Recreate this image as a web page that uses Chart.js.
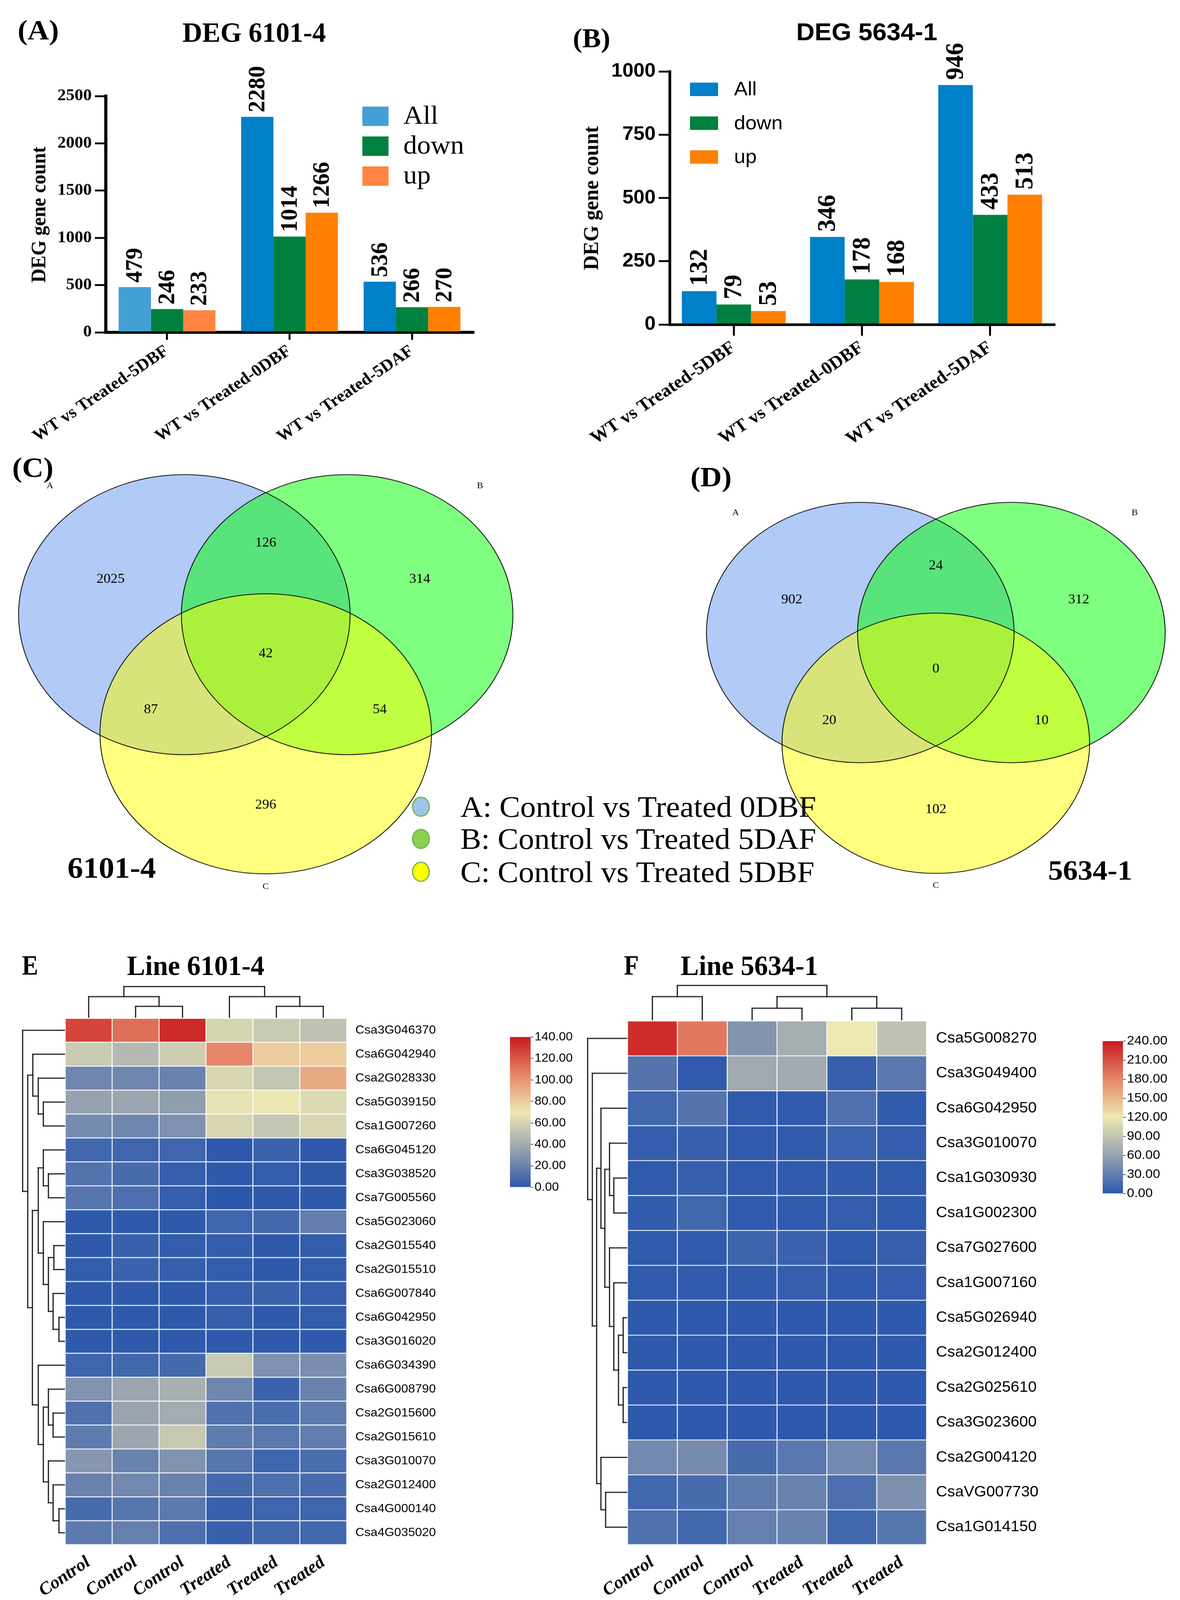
<!DOCTYPE html>
<html><head><meta charset="utf-8"><title>DEG figure</title>
<script src="https://cdn.jsdelivr.net/npm/chart.js@4.4.1/dist/chart.umd.min.js"></script>
<style>
html,body{margin:0;padding:0;background:#fff;}
body{width:3022px;position:relative;overflow:hidden;}
#fig{position:absolute;left:0;top:0;width:3022px;height:4280px;transform-origin:0 0;background:#fff;}
canvas{position:absolute;}
.t{position:absolute;white-space:nowrap;transform-origin:center center;color:#000;line-height:1;z-index:10;}
.dot{position:absolute;border-radius:50%;box-sizing:border-box;z-index:10;}
</style></head>
<body>
<div id="fig"></div>
<script>
// ================= DATA =================
const barCategories = ['WT vs Treated-5DBF', 'WT vs Treated-0DBF', 'WT vs Treated-5DAF'];
const seriesNames = ['All', 'down', 'up'];
const deg6101All  = [479, 2280, 536];
const deg6101Down = [246, 1014, 266];
const deg6101Up   = [233, 1266, 270];
const deg5634All  = [132, 346, 946];
const deg5634Down = [79, 178, 433];
const deg5634Up   = [53, 168, 513];
const deg6101Ticks = [0, 500, 1000, 1500, 2000, 2500];
const deg5634Ticks = [0, 250, 500, 750, 1000];

const vennRegions = ['A', 'AB', 'B', 'ABC', 'AC', 'BC', 'C'];
const venn6101Counts = [2025, 126, 314, 42, 87, 54, 296];
const venn5634Counts = [902, 24, 312, 0, 20, 10, 102];
const vennSetLetters = ['A', 'B', 'C'];
const vennSetNames = ['A: Control vs Treated 0DBF', 'B: Control vs Treated 5DAF', 'C: Control vs Treated 5DBF'];

const heatColumns = ['Control', 'Control', 'Control', 'Treated', 'Treated', 'Treated'];
const heat6101Genes = ['Csa3G046370','Csa6G042940','Csa2G028330','Csa5G039150','Csa1G007260','Csa6G045120',
  'Csa3G038520','Csa7G005560','Csa5G023060','Csa2G015540','Csa2G015510','Csa6G007840','Csa6G042950',
  'Csa3G016020','Csa6G034390','Csa6G008790','Csa2G015600','Csa2G015610','Csa3G010070','Csa2G012400',
  'Csa4G000140','Csa4G035020'];
const heat6101Values = [
  [126,113,135,60,55,51],[55,47,57,105,80,80],[22,22,20,61,53,92],[35,37,33,67,69,63],
  [24,22,27,61,53,61],[7,6,6,1,5,1],[13,9,3,1,2,1],[14,11,3,0,1,1],[1,1,1,6,8,18],
  [1,4,2,2,1,2],[2,5,3,2,1,2],[1,1,1,3,5,3],[1,1,1,3,1,2],[1,1,1,1,1,1],
  [6,7,8,55,27,25],[28,37,42,22,5,20],[12,36,40,12,10,17],[17,37,54,17,15,18],
  [30,20,28,14,6,10],[20,23,20,8,11,9],[9,14,16,4,6,6],[16,19,11,4,7,7]];
const heat6101Ticks = [0, 20, 40, 60, 80, 100, 120, 140];
const heat5634Genes = ['Csa5G008270','Csa3G049400','Csa6G042950','Csa3G010070','Csa1G030930','Csa1G002300',
  'Csa7G027600','Csa1G007160','Csa5G026940','Csa2G012400','Csa2G025610','Csa3G023600','Csa2G004120',
  'CsaVG007730','Csa1G014150'];
const heat5634Values = [
  [229,188,49,70,120,87],[23,2,67,68,6,26],[12,23,2,2,20,3],[4,6,2,3,9,4],[2,5,2,2,3,2],
  [3,12,2,2,4,2],[2,2,10,8,2,5],[2,2,3,5,2,4],[1,1,1,1,1,1],[1,1,1,1,1,1],[1,1,1,1,1,1],
  [1,1,1,1,1,1],[40,42,15,25,40,26],[12,15,29,34,18,46],[20,12,32,35,12,24]];
const heat5634Ticks = [0, 30, 60, 90, 120, 150, 180, 210, 240];
// cluster trees: [left, right, merge distance]; leaves are row / column indices
const heat6101RowTree = [0, [[1, [2, [3, 4, 54], 67], 81],
  [[[5, [6, 7, 41], 54], [8, [[9, 10, 27], [11, [12, 13, 14], 29], 41], 54], 67],
   [14, [[15, [16, 17, 29], 41], [18, [19, [20, 21, 14], 29], 41], 54], 67], 82], 94], 107];
const heat6101ColTree = [[0, [1, 2, 29], 55], [3, [4, 5, 29], 55], 82];
const heat5634RowTree = [0, [1, [[2, [[3, [4, 5, 33], 44], [6, [7, [[8, 9, 9], [10, 11, 9], 21], 33], 44], 56], 66],
  [12, [13, 14, 54], 66], 77], 88], 100];
const heat5634ColTree = [[0, 1, 62], [[2, 3, 31], [4, 5, 31], 62], 92];

// ================= STYLE / LAYOUT =================
const FIG_W = 3022, FIG_H = 4280;
const fig = document.getElementById('fig');
// the browser viewport may be shorter than the figure: fit the whole figure into it
const fitY = Math.min(1, (window.innerHeight || FIG_H) / FIG_H);
fig.style.transform = `scale(1, ${fitY})`;
document.body.style.height = Math.round(FIG_H * fitY) + 'px';

const SERIF = '"Liberation Serif","Times New Roman",serif';
const SANS = '"Liberation Sans",Arial,sans-serif';
Chart.defaults.color = '#000';
Chart.defaults.font.family = SANS;

const heatStops = [[0,[44,88,172]],[0.25,[150,162,176]],[0.5,[238,232,178]],[0.75,[230,135,105]],[1,[200,25,30]]];
function heatColor(f) {
  f = Math.max(0, Math.min(1, f));
  for (let i = 1; i < heatStops.length; i++) {
    if (f <= heatStops[i][0]) {
      const [f0, c0] = heatStops[i-1], [f1, c1] = heatStops[i];
      const t = (f - f0) / (f1 - f0);
      return 'rgb(' + c0.map((c, k) => Math.round(c + (c1[k] - c) * t)).join(',') + ')';
    }
  }
  return 'rgb(200,25,30)';
}

function mkCanvas(left, top, w, h) {
  const c = document.createElement('canvas');
  c.width = w; c.height = h;
  c.style.left = left + 'px'; c.style.top = top + 'px';
  c.style.width = w + 'px'; c.style.height = h + 'px';
  fig.appendChild(c);
  return c;
}
function addText(txt, x, y, size, o = {}) {
  const d = document.createElement('div');
  d.className = 't'; d.textContent = txt;
  d.style.left = x + 'px'; d.style.top = y + 'px';
  d.style.fontFamily = o.family || SERIF;
  d.style.fontSize = size + 'px';
  d.style.fontWeight = o.bold === false ? 'normal' : 'bold';
  const sy = o.sy || 1;
  d.style.transform = o.left ? `translate(0,-50%) scale(1,${sy})`
                             : `translate(-50%,-50%) rotate(${o.rot || 0}deg) scale(1,${sy})`;
  if (o.left) d.style.transformOrigin = 'left center';
  fig.appendChild(d);
}

// ---------- plugins ----------
function valueLabels(size, gap) {
  return { id: 'valueLabels', afterDatasetsDraw(chart) {
    const ctx = chart.ctx; ctx.save();
    ctx.fillStyle = '#000'; ctx.font = `bold ${size}px ${SERIF}`;
    ctx.textAlign = 'left'; ctx.textBaseline = 'middle';
    chart.data.datasets.forEach((ds, di) => {
      chart.getDatasetMeta(di).data.forEach((el, i) => {
        ctx.save(); ctx.translate(el.x + 2, el.y - gap); ctx.rotate(-Math.PI / 2);
        ctx.fillText(String(ds.data[i]), 0, 0); ctx.restore();
      });
    });
    ctx.restore();
  }};
}
function boxLegend(o) {
  return { id: 'boxLegend', afterDraw(chart) {
    const ctx = chart.ctx; ctx.save();
    chart.data.datasets.forEach((ds, i) => {
      const y = o.y + i * o.step;
      ctx.fillStyle = ds.legendColor; ctx.fillRect(o.x, y, o.w, o.h);
      ctx.fillStyle = '#000'; ctx.font = `${o.size}px ${o.family}`;
      ctx.textAlign = 'left'; ctx.textBaseline = 'middle';
      ctx.fillText(ds.label, o.textX, y + o.h / 2 + 2);
    });
    ctx.restore();
  }};
}

function barChart(canvas, all, down, up, ticks, st) {
  return new Chart(canvas, {
    type: 'bar',
    data: { labels: barCategories, datasets: [
      { label: seriesNames[0], data: all, backgroundColor: st.allColors, legendColor: st.legendColors[0] },
      { label: seriesNames[1], data: down, backgroundColor: st.downColors, legendColor: st.legendColors[1] },
      { label: seriesNames[2], data: up, backgroundColor: st.upColors, legendColor: st.legendColors[2] }]},
    options: {
      responsive: false, animation: false, devicePixelRatio: 1,
      layout: { padding: st.padding },
      plugins: { legend: { display: false }, tooltip: { enabled: false } },
      datasets: { bar: { categoryPercentage: st.catPct, barPercentage: 1, borderWidth: 0 } },
      scales: {
        x: { z: 1,
          grid: { offset: false, drawOnChartArea: false, tickLength: st.xTickLen, lineWidth: 5, color: '#000' },
          border: { color: '#000', width: st.axisW },
          ticks: { minRotation: 35, maxRotation: 35, autoSkip: false, padding: 4, color: '#000',
                   font: { family: SERIF, size: st.xFont, weight: 'bold' } },
          afterFit(s) { s.height = st.xH; } },
        y: { z: 1, min: 0, max: ticks[ticks.length - 1],
          afterBuildTicks(ax) { ax.ticks = ticks.map(v => ({ value: v })); },
          grid: { drawOnChartArea: false, tickLength: 28, lineWidth: 5, color: '#000' },
          border: { color: '#000', width: st.axisW },
          ticks: { padding: 8, color: '#000', font: { family: st.yFamily, size: st.yFont, weight: 'bold' },
                   callback: v => String(v) },
          afterFit(s) { s.width = st.yW; } }
      }
    },
    plugins: [valueLabels(st.valFont, st.valGap), boxLegend(st.legend)]
  });
}

// Venn geometry (data units: distance between set centres = 1)
const vennCentres = [[-0.5, 0.433], [0.5, 0.433], [0, -0.433]];
const vennRadius = 1.018;
const vennFills = ['rgba(100,149,237,0.5)', 'rgba(0,255,0,0.5)', 'rgba(255,255,0,0.5)'];
const vennRegionAnchors = [[-0.953,0.689],[0,0.955],[0.946,0.689],[0,0.148],[-0.705,-0.257],[0.70,-0.257],[0,-0.951]];
const vennLetterAnchors = [[-1.325,1.37],[1.316,1.37],[0,-1.545]];

function vennChart(canvas, counts, xr, yr) {
  const plugin = {
    id: 'venn',
    beforeDatasetsDraw(chart) {
      const { x, y } = chart.scales; const ctx = chart.ctx;
      const E = vennCentres.map(c => ({
        cx: x.getPixelForValue(c[0]), cy: y.getPixelForValue(c[1]),
        rx: Math.abs(x.getPixelForValue(c[0] + vennRadius) - x.getPixelForValue(c[0])),
        ry: Math.abs(y.getPixelForValue(c[1] + vennRadius) - y.getPixelForValue(c[1])) }));
      ctx.save();
      E.forEach((e, i) => { ctx.beginPath(); ctx.ellipse(e.cx, e.cy, e.rx, e.ry, 0, 0, 2 * Math.PI);
        ctx.fillStyle = vennFills[i]; ctx.fill(); });
      ctx.strokeStyle = '#000'; ctx.lineWidth = 2;
      E.forEach(e => { ctx.beginPath(); ctx.ellipse(e.cx, e.cy, e.rx, e.ry, 0, 0, 2 * Math.PI); ctx.stroke(); });
      ctx.restore();
    },
    afterDatasetsDraw(chart) {
      const ctx = chart.ctx; ctx.save(); ctx.fillStyle = '#000';
      ctx.textAlign = 'center'; ctx.textBaseline = 'middle';
      chart.data.datasets.forEach((ds, di) => {
        ctx.font = `${ds.textSize}px ${SERIF}`;
        chart.getDatasetMeta(di).data.forEach((p, i) => ctx.fillText(String(ds.texts[i]), p.x, p.y));
      });
      ctx.restore();
    }
  };
  return new Chart(canvas, {
    type: 'scatter',
    data: { datasets: [
      { data: vennRegionAnchors.map(p => ({ x: p[0], y: p[1] })), texts: counts, textSize: 36, pointRadius: 0 },
      { data: vennLetterAnchors.map(p => ({ x: p[0], y: p[1] })), texts: vennSetLetters, textSize: 24, pointRadius: 0 }]},
    options: { responsive: false, animation: false, devicePixelRatio: 1, layout: { padding: 0 },
      plugins: { legend: { display: false }, tooltip: { enabled: false } },
      scales: { x: { type: 'linear', display: false, min: xr[0], max: xr[1] },
                y: { type: 'linear', display: false, min: yr[0], max: yr[1] } } },
    plugins: [plugin]
  });
}

function dendro(rowTree, colTree) {
  return { id: 'dendro', afterDraw(chart) {
    const ctx = chart.ctx, area = chart.chartArea, xs = chart.scales.x, ys = chart.scales.y;
    ctx.save(); ctx.strokeStyle = '#1a1a1a'; ctx.lineWidth = 3; ctx.lineCap = 'square';
    const line = (a, b, c, d) => { ctx.beginPath(); ctx.moveTo(a, b); ctx.lineTo(c, d); ctx.stroke(); };
    const rowBase = area.left - 2, colBase = area.top - 3;
    function wr(n) {
      if (typeof n === 'number') return { p: ys.getPixelForValue(n + 0.5), d: rowBase };
      const a = wr(n[0]), b = wr(n[1]), d = rowBase - n[2];
      line(d, a.p, d, b.p); line(d, a.p, a.d, a.p); line(d, b.p, b.d, b.p);
      return { p: (a.p + b.p) / 2, d };
    }
    function wc(n) {
      if (typeof n === 'number') return { p: xs.getPixelForValue(n), d: colBase };
      const a = wc(n[0]), b = wc(n[1]), d = colBase - n[2];
      line(a.p, d, b.p, d); line(a.p, d, a.p, a.d); line(b.p, d, b.p, b.d);
      return { p: (a.p + b.p) / 2, d };
    }
    wr(rowTree); wc(colTree);
    ctx.restore();
  }};
}

function heatmap(canvas, genes, values, vmax, rowTree, colTree, st) {
  const datasets = genes.map((g, i) => ({
    label: g, data: heatColumns.map(() => [i, i + 1]),
    backgroundColor: values[i].map(v => heatColor(v / vmax)),
    borderColor: '#ffffff', borderWidth: 1.5, borderSkipped: false, grouped: false,
    categoryPercentage: 1, barPercentage: 1 }));
  return new Chart(canvas, {
    type: 'bar',
    data: { labels: heatColumns, datasets },
    options: { responsive: false, animation: false, devicePixelRatio: 1,
      layout: { padding: st.padding },
      plugins: { legend: { display: false }, tooltip: { enabled: false } },
      scales: {
        x: { type: 'category', grid: { display: false }, border: { display: false },
             ticks: { minRotation: 35, maxRotation: 35, autoSkip: false, padding: 12, color: '#000',
                      font: { family: SERIF, size: 47, weight: 'bold', style: 'italic' } },
             afterFit(s) { s.height = st.xH; } },
        y: { type: 'linear', min: 0, max: genes.length, reverse: true, position: 'right',
             grid: { display: false }, border: { display: false },
             afterBuildTicks(ax) { ax.ticks = genes.map((_, i) => ({ value: i + 0.5 })); },
             ticks: { autoSkip: false, padding: st.labelPad, color: '#000', font: { family: SANS, size: st.labelSize },
                      callback: v => genes[Math.floor(v)] },
             afterFit(s) { s.width = st.yW; } } } },
    plugins: [dendro(rowTree, colTree)]
  });
}

function colorbar(canvas, ticks, st) {
  const vmax = ticks[ticks.length - 1];
  return new Chart(canvas, {
    type: 'bar',
    data: { labels: [''], datasets: [{ data: [[0, vmax]], borderWidth: 0, categoryPercentage: 1, barPercentage: 1,
      backgroundColor(ctx) {
        const c = ctx.chart; if (!c.chartArea) return 'rgba(0,0,0,0)';
        const y = c.scales.y;
        const g = c.ctx.createLinearGradient(0, y.getPixelForValue(0), 0, y.getPixelForValue(vmax));
        heatStops.forEach(s => g.addColorStop(s[0], heatColor(s[0])));
        return g;
      } }] },
    options: { responsive: false, animation: false, devicePixelRatio: 1,
      layout: { padding: st.padding },
      plugins: { legend: { display: false }, tooltip: { enabled: false } },
      scales: {
        x: { display: false },
        y: { min: 0, max: vmax, position: 'right',
             afterBuildTicks(ax) { ax.ticks = ticks.map(v => ({ value: v })); },
             grid: { drawOnChartArea: false, tickLength: 7, lineWidth: 2, color: '#555' },
             border: { display: false },
             ticks: { padding: 3, color: '#000', font: { family: SANS, size: st.size }, callback: v => Number(v).toFixed(2) },
             afterFit(s) { s.width = st.yW; } } } }
  });
}

// ================= BUILD =================
barChart(mkCanvas(0, 150, 1450, 1100), deg6101All, deg6101Down, deg6101Up, deg6101Ticks, {
  padding: { top: 107, right: 238, left: 0, bottom: 0 }, yW: 271, xH: 361, catPct: 0.79, axisW: 8, xTickLen: 20,
  xFont: 45, yFont: 44, yFamily: SERIF, valFont: 62, valGap: 12,
  allColors: ['#42a0d5', '#0080c6', '#0080c6'], downColors: '#00803f', upColors: ['#ff8442', '#ff8000', '#ff8000'],
  legendColors: ['#42a0d5', '#00803f', '#ff8442'],
  legend: { x: 928, y: 135, step: 80, w: 67, h: 52, textX: 1033, size: 70, family: SERIF } });

barChart(mkCanvas(1450, 100, 1572, 1150), deg5634All, deg5634Down, deg5634Up, deg5634Ticks, {
  padding: { top: 91, right: 322, left: 0, bottom: 0 }, yW: 265, xH: 382, catPct: 0.81, axisW: 7, xTickLen: 30,
  xFont: 48, yFont: 51, yFamily: SANS, valFont: 66, valGap: 14,
  allColors: '#0080c8', downColors: '#008040', upColors: '#ff8000',
  legendColors: ['#0080c8', '#008040', '#ff8000'],
  legend: { x: 317, y: 121, step: 90.5, w: 72, h: 36, textX: 430, size: 52, family: SANS } });

vennChart(mkCanvas(0, 1200, 1450, 1200), venn6101Counts, [-1.632, 1.845], [-1.621, 1.64]);
vennChart(mkCanvas(1500, 1200, 1522, 1200), venn5634Counts, [-2.317, 1.616], [-1.637, 1.871]);

heatmap(mkCanvas(0, 2620, 1300, 1660), heat6101Genes, heat6101Values, 140, heat6101RowTree, heat6101ColTree,
  { padding: { left: 167, top: 104, right: 0, bottom: 0 }, yW: 412, xH: 148, labelSize: 32, labelPad: 14 });
heatmap(mkCanvas(1450, 2620, 1400, 1660), heat5634Genes, heat5634Values, 240, heat5634RowTree, heat5634ColTree,
  { padding: { left: 157, top: 111, right: 0, bottom: 0 }, yW: 477, xH: 148, labelSize: 40, labelPad: 16 });

colorbar(mkCanvas(1306, 2744, 260, 470), heat6101Ticks, { padding: { top: 30, bottom: 38, left: 0, right: 0 }, yW: 207, size: 32 });
colorbar(mkCanvas(2824, 2755, 198, 470), heat5634Ticks, { padding: { top: 30, bottom: 32, left: 0, right: 0 }, yW: 146, size: 34 });

// ---------- texts ----------
addText('(A)', 98, 80, 76);
addText('DEG 6101-4', 651, 87, 70, { sy: 1.08 });
addText('(B)', 1515, 102, 72);
addText('DEG 5634-1', 2220, 85, 65, { family: SANS });
addText('DEG gene count', 99, 574, 52, { rot: -90 });
addText('DEG gene count', 1513, 530, 55, { rot: -90 });
addText('(C)', 84, 1250, 76);
addText('(D)', 1821, 1275, 76);
addText('6101-4', 286, 2321, 80);
addText('5634-1', 2792, 2327, 76);
addText('E', 77, 2582, 62, { sy: 1.2 });
addText('Line 6101-4', 501, 2583, 70, { sy: 1.08 });
addText('F', 1617, 2582, 62, { sy: 1.2 });
addText('Line 5634-1', 1919, 2583, 70, { sy: 1.08 });

const legendDotColors = ['#a0c4e8', '#8cd050', '#ffff00'];
const legendRowsY = [2158, 2244, 2332];
vennSetNames.forEach((name, i) => {
  const d = document.createElement('div');
  d.className = 'dot';
  d.style.left = (1078 - 23) + 'px'; d.style.top = (legendRowsY[i] - 27) + 'px';
  d.style.width = '46px'; d.style.height = '54px';
  d.style.background = legendDotColors[i]; d.style.border = '3px solid #6ab04c';
  fig.appendChild(d);
  addText(name, 1179, legendRowsY[i], 80, { bold: false, left: true });
});
</script>
</body></html>
